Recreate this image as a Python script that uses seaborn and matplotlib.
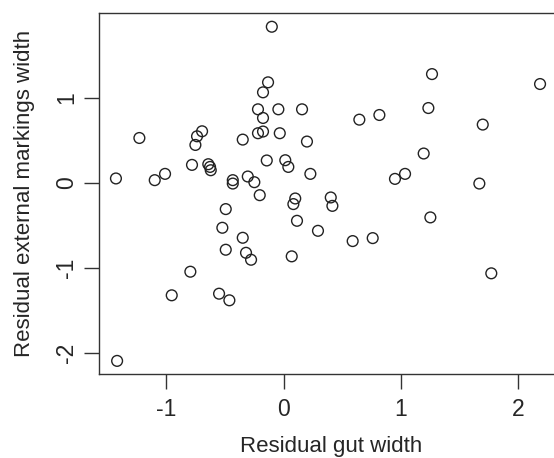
import numpy as np
import pandas as pd
import matplotlib
matplotlib.use("Agg")
import matplotlib.pyplot as plt
import seaborn as sns

# residuals
gut_width = [-0.10, -0.132, -0.175, -0.218, -0.175, -0.044, 0.158, -1.230, -0.695, -0.738,
             -0.752, -0.348, -0.218, -0.175, -0.032, 0.20, -0.143, 0.015, 0.041, 0.229,
             -0.781, -0.642, -0.627, -0.621, -1.43, -1.099, -1.011, -0.433, -0.433, -0.305,
             -0.249, -0.203, 0.10, 0.084, -0.493, -0.522, 0.115, 0.294, -0.348, -0.493,
             -0.32, -0.277, 0.07, -0.795, -0.954, -0.55, -0.462, -1.42, 1.267, 2.189,
             1.236, 0.647, 0.818, 1.70, 1.196, 0.951, 1.037, 1.671, 0.403, 0.417,
             0.59, 0.761, 1.253, 1.773]
markings_width = [1.84, 1.185, 1.067, 0.867, 0.765, 0.867, 0.867, 0.529, 0.608, 0.549,
                  0.447, 0.51, 0.585, 0.605, 0.585, 0.487, 0.264, 0.267, 0.188, 0.106,
                  0.212, 0.22, 0.188, 0.149, 0.052, 0.032, 0.106, 0.032, -0.008, 0.075,
                  0.008, -0.145, -0.184, -0.25, -0.309, -0.529, -0.447, -0.565, -0.647, -0.788,
                  -0.824, -0.906, -0.866, -1.047, -1.325, -1.306, -1.384, -2.098, 1.282, 1.165,
                  0.882, 0.745, 0.80, 0.687, 0.346, 0.047, 0.106, -0.008, -0.172, -0.271,
                  -0.686, -0.651, -0.407, -1.066]
x_ticks = [-1, 0, 1, 2]
y_ticks = [-2, -1, 0, 1]

df = pd.DataFrame({"gut": gut_width, "markings": markings_width})

sns.set_style("ticks")
plt.rcParams["font.family"] = ["Liberation Sans", "DejaVu Sans"]

fig = plt.figure(figsize=(5.54, 4.58), dpi=100)
# right edge of the box runs off the picture, as in the reference
ax = fig.add_axes([99.3 / 554, (458 - 374.3) / 458, (562 - 99.3) / 554, (374.3 - 13) / 458])

sns.scatterplot(data=df, x="gut", y="markings", ax=ax, s=60, marker="o",
                facecolors="none", edgecolor="#222222", linewidth=1.0)

ax.set_xlim(-1.572, (562 - 283.5) / 117.2)
ax.set_ylim(-2.256, 2.002)
ax.set_xticks(x_ticks)
ax.set_yticks(y_ticks)
ax.set_xticklabels([str(v) for v in x_ticks])
ax.set_yticklabels([str(v) for v in y_ticks], rotation=90, va="center")

for sp in ax.spines.values():
    sp.set_visible(True)
    sp.set_color("#333333")
    sp.set_linewidth(1.0)

ax.tick_params(axis="both", length=11, width=1.0, color="#333333", labelsize=16.5, pad=4)
ax.tick_params(axis="x", pad=6)
ax.set_xlabel("Residual gut width", fontsize=16, labelpad=11)
ax.set_ylabel("Residual external markings width", fontsize=16, labelpad=15)

fig.savefig("out.png", dpi=100)
